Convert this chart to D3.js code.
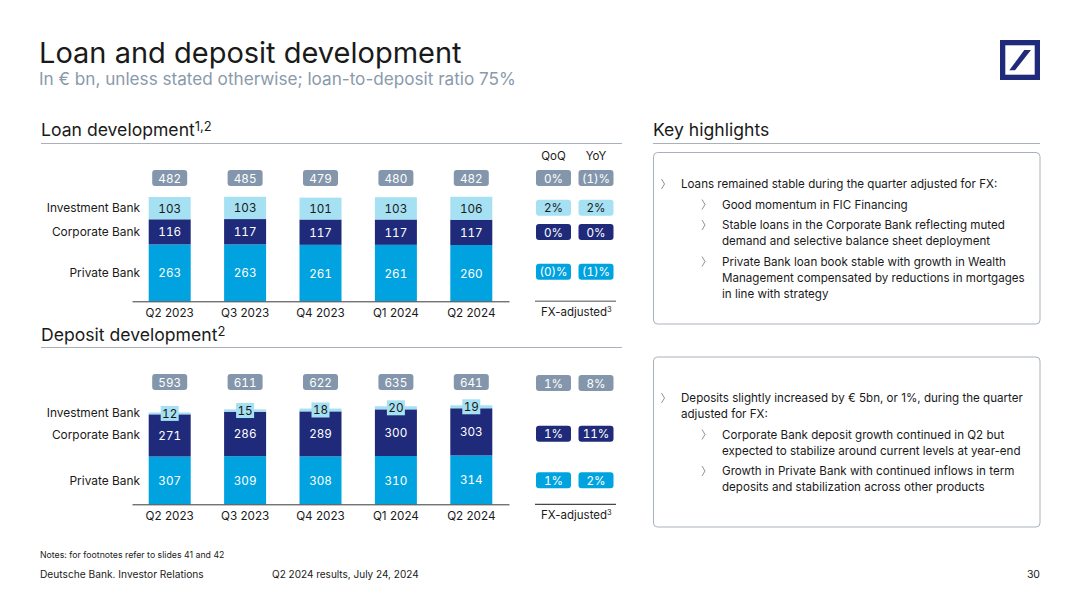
<!DOCTYPE html>
<html>
<head>
<meta charset="utf-8">
<script src="https://cdn.jsdelivr.net/npm/d3@7/dist/d3.min.js"></script>
<style>
  html, body { margin: 0; padding: 0; background: #fff; }
  svg { display: block; }
  text { font-family: "Inter", "Noto Sans", sans-serif; fill: #1a1a1a; }
  text.num { font-variant-numeric: tabular-nums; }
  .axis-x text { font-size: 11.7px; fill: #1a1a1a; }
  .axis-x path { stroke: #3a3a3a; }
</style>
</head>
<body>
<div id="chart-container"></div>
<script>
const quarters = ["Q2 2023", "Q3 2023", "Q4 2023", "Q1 2024", "Q2 2024"];
const segments = ["Private Bank", "Corporate Bank", "Investment Bank"];

const loanPrivate = [263, 263, 261, 261, 260];
const loanCorporate = [116, 117, 117, 117, 117];
const loanInvestment = [103, 103, 101, 103, 106];
const loanTotals = [482, 485, 479, 480, 482];
const loanQoQ = ["0%", "2%", "0%", "(0)%"];
const loanYoY = ["(1)%", "2%", "0%", "(1)%"];

const depositPrivate = [307, 309, 308, 310, 314];
const depositCorporate = [271, 286, 289, 300, 303];
const depositInvestment = [12, 15, 18, 20, 19];
const depositTotals = [593, 611, 622, 635, 641];
const depositQoQ = ["1%", "1%", "1%"];
const depositYoY = ["8%", "11%", "2%"];

const loanHighlights = [
  [0, "Loans remained stable during the quarter adjusted for FX:"],
  [1, "Good momentum in FIC Financing"],
  [1, "Stable loans in the Corporate Bank reflecting muted", "demand and selective balance sheet deployment"],
  [1, "Private Bank loan book stable with growth in Wealth", "Management compensated by reductions in mortgages", "in line with strategy"]
];
const depositHighlights = [
  [0, "Deposits slightly increased by € 5bn, or 1%, during the quarter", "adjusted for FX:"],
  [1, "Corporate Bank deposit growth continued in Q2 but", "expected to stabilize around current levels at year-end"],
  [1, "Growth in Private Bank with continued inflows in term", "deposits and stabilization across other products"]
];

const COLOR_PRIVATE = "#00a3e0";
const COLOR_CORPORATE = "#1f2a7b";
const COLOR_INVESTMENT = "#a5e1f2";
const COLOR_TOTAL = "#8496ab";
const COLOR_RULE = "#a9b2bc";

const svg = d3.select("#chart-container")
  .append("svg")
    .attr("width", 1080)
    .attr("height", 608);

const xScale = d3.scaleBand()
  .domain(quarters)
  .range([132, 509])
  .paddingInner(0.443)
  .paddingOuter(0.2215);

function addText(x, y, str, size, opts = {}) {
  return svg.append("text")
    .attr("class", opts.cls || null)
    .attr("x", x)
    .attr("y", y)
    .attr("font-size", size)
    .attr("text-anchor", opts.anchor || "start")
    .attr("dominant-baseline", opts.baseline || "auto")
    .style("fill", opts.fill || "#1a1a1a")
    .text(str);
}

function addHeading(x, y, str, sup) {
  const t = addText(x, y, str, 17.6);
  if (sup) {
    t.append("tspan").attr("font-size", 13).attr("dy", -5).text(sup);
  }
}

function addRule(x1, x2, y, color, w) {
  svg.append("line")
    .attr("x1", x1).attr("x2", x2)
    .attr("y1", y).attr("y2", y)
    .attr("stroke", color)
    .attr("stroke-width", w);
}

function addBadge(cx, cy, str, bg, fg) {
  svg.append("rect")
    .attr("x", cx - 17.5)
    .attr("y", cy - 8)
    .attr("width", 35)
    .attr("height", 16)
    .attr("rx", 3)
    .attr("fill", bg);
  addText(cx, cy + 0.5, str, 11.7, { anchor: "middle", baseline: "central", fill: fg, cls: "num" });
}

function drawChart(cfg) {
  const yScale = d3.scaleLinear()
    .domain([0, cfg.unitTop])
    .range([cfg.base, cfg.top]);

  const rows = quarters.map((q, i) => ({
    quarter: q,
    "Private Bank": cfg.privateVals[i],
    "Corporate Bank": cfg.corporateVals[i],
    "Investment Bank": cfg.investmentVals[i]
  }));
  const stacked = d3.stack().keys(segments)(rows);
  const colors = [COLOR_PRIVATE, COLOR_CORPORATE, COLOR_INVESTMENT];
  const labelColors = ["#fff", "#fff", "#1a1a1a"];

  stacked.forEach((layer, k) => {
    const g = svg.append("g");
    g.selectAll("rect")
      .data(layer)
      .join("rect")
        .attr("x", d => xScale(d.data.quarter))
        .attr("y", d => yScale(d[1]))
        .attr("width", xScale.bandwidth())
        .attr("height", d => yScale(d[0]) - yScale(d[1]))
        .attr("fill", colors[k]);
  });

  stacked.forEach((layer, k) => {
    layer.forEach(d => {
      const cx = xScale(d.data.quarter) + xScale.bandwidth() / 2;
      const cy = (yScale(d[0]) + yScale(d[1])) / 2;
      if (cfg.boxedTop && k === 2) {
        svg.append("rect")
          .attr("x", cx - 9)
          .attr("y", cy - 7.5)
          .attr("width", 18)
          .attr("height", 15)
          .attr("fill", COLOR_INVESTMENT);
      }
      addText(cx, cy + 0.5, d[1] - d[0], 11.7, { anchor: "middle", baseline: "central", fill: labelColors[k], cls: "num" });
    });
  });

  // Totals above the bars
  cfg.totals.forEach((v, i) => {
    addBadge(xScale(quarters[i]) + xScale.bandwidth() / 2, cfg.totalY, v, COLOR_TOTAL, "#fff");
  });

  // x axis
  svg.append("g")
    .attr("class", "axis-x")
    .attr("transform", `translate(0,${cfg.base})`)
    .call(d3.axisBottom(xScale).tickSize(0).tickPadding(7.5));

  // Segment labels
  segments.forEach((s, k) => {
    addText(140, cfg.labelY[k], s, 11.9, { anchor: "end", baseline: "central" });
  });

  // QoQ and YoY badges
  const bg = [COLOR_TOTAL, COLOR_INVESTMENT, COLOR_CORPORATE, COLOR_PRIVATE];
  const fg = ["#fff", "#1a1a1a", "#fff", "#fff"];
  cfg.rowIdx.forEach((r, j) => {
    addBadge(553.5, cfg.rowY[j], cfg.qoq[j], bg[r], fg[r]);
    addBadge(596, cfg.rowY[j], cfg.yoy[j], bg[r], fg[r]);
  });

  addRule(535, 616, cfg.base, cfg.fxColor, cfg.fxWidth);
  const fx = addText(541, cfg.base + 15, "FX-adjusted", 11.5);
  fx.append("tspan").attr("font-size", 7.5).attr("dy", -4).text("3");
}

function drawHighlights(list, startY) {
  let y = startY;
  list.forEach(item => {
    const level = item[0];
    const bx = level === 0 ? 661.5 : 702;
    const tx = level === 0 ? 681 : 722;
    svg.append("path")
      .attr("d", d3.line()([[bx, y - 5], [bx + 3, y], [bx, y + 5]]))
      .attr("fill", "none")
      .attr("stroke", "#5a6672")
      .attr("stroke-width", 0.7);
    item.slice(1).forEach(line => {
      addText(tx, y, line, 11.6, { baseline: "central" });
      y += 16;
    });
    y += 4.5;
  });
}

// Header
addText(39, 63, "Loan and deposit development", 29);
addText(39, 85, "In € bn, unless stated otherwise; loan-to-deposit ratio 75%", 17.15, { fill: "#8a9aab" });

svg.append("rect").attr("x", 1000).attr("y", 40).attr("width", 40).attr("height", 40).attr("fill", COLOR_CORPORATE);
svg.append("rect").attr("x", 1005.3).attr("y", 45.3).attr("width", 29.4).attr("height", 29.4).attr("fill", "#fff");
svg.append("path")
  .attr("d", "M1009.3,70.3L1015,70.3L1031,50L1024.3,50Z")
  .attr("fill", COLOR_CORPORATE);

// Left column
addHeading(41, 136, "Loan development", "1,2");
addRule(41, 622, 143.5, COLOR_RULE, 1);
addText(553.5, 156, "QoQ", 11.5, { anchor: "middle", baseline: "central" });
addText(596, 156, "YoY", 11.5, { anchor: "middle", baseline: "central" });

drawChart({
  privateVals: loanPrivate,
  corporateVals: loanCorporate,
  investmentVals: loanInvestment,
  totals: loanTotals,
  qoq: loanQoQ,
  yoy: loanYoY,
  unitTop: 482,
  base: 301.3,
  top: 197,
  totalY: 178,
  labelY: [272.5, 231.5, 207.5],
  rowIdx: [0, 1, 2, 3],
  rowY: [178, 207.7, 232, 271.7],
  fxColor: "#8a8a8a",
  fxWidth: 1.5,
  boxedTop: false
});

addHeading(41, 341, "Deposit development", "2");
addRule(41, 622, 347.5, COLOR_RULE, 1);

drawChart({
  privateVals: depositPrivate,
  corporateVals: depositCorporate,
  investmentVals: depositInvestment,
  totals: depositTotals,
  qoq: depositQoQ,
  yoy: depositYoY,
  unitTop: 593,
  base: 504.3,
  top: 412,
  totalY: 382,
  labelY: [480, 434, 412.5],
  rowIdx: [0, 2, 3],
  rowY: [383, 433.7, 480.3],
  fxColor: "#1a1a1a",
  fxWidth: 1,
  boxedTop: true
});

// Right column
addHeading(653, 136, "Key highlights");
addRule(653, 1040, 143.5, COLOR_RULE, 1);

[[152.5, 171.5], [357, 170]].forEach(([y, h]) => {
  svg.append("rect")
    .attr("x", 653.5).attr("y", y)
    .attr("width", 386.5).attr("height", h)
    .attr("rx", 4)
    .attr("fill", "#fff")
    .attr("stroke", COLOR_RULE);
});

drawHighlights(loanHighlights, 184);
drawHighlights(depositHighlights, 398);

// Footer
addText(40, 558, "Notes: for footnotes refer to slides 41 and 42", 8.75);
addText(40, 578, "Deutsche Bank. Investor Relations", 10.2);
addText(272, 578, "Q2 2024 results, July 24, 2024", 10);
addText(1040, 578, "30", 10.5, { anchor: "end" });
</script>
</body>
</html>
